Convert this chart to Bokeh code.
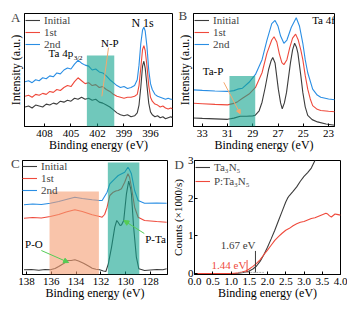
from bokeh.plotting import figure
from bokeh.models import Range1d, Label, Legend, LegendItem, FixedTicker, Arrow, NormalHead, BoxAnnotation, PrintfTickFormatter
from bokeh.layouts import column, row
from bokeh.embed import file_html
from bokeh.resources import INLINE

FONT = "Liberation Serif"
COL_INIT = "#3c3c3c"
COL_1ST = "#ef4a3c"
COL_2ND = "#2a8ee4"
TEAL = "#11a38e"
SALMON = "#f59d71"
ORANGE = "#f5a86e"
GREEN = "#55cc55"

SERIES = ["Initial", "1st", "2nd"]

# ---------------- Panel A : N 1s ----------------
A_X = [410.2, 409.8, 409.4, 409.0, 408.6, 408.2, 407.8, 407.4, 407.0, 406.6, 406.2, 405.8, 405.4, 405.0,
       404.6, 404.2, 403.8, 403.4, 403.0, 402.6, 402.2, 401.8, 401.4, 401.0, 400.6, 400.2, 399.8, 399.4,
       399.0, 398.6, 398.2, 397.8, 397.5, 397.3, 397.1, 396.9, 396.75, 396.6, 396.4, 396.2, 396.0, 395.8,
       395.5, 395.2, 394.9, 394.6, 394.3, 394.0, 393.7, 393.5]
A_INIT = [20, 21, 19, 22, 21, 20, 23, 22, 24, 23, 26, 25, 27, 26, 29, 28, 30, 28, 29, 27, 28, 25, 24, 22,
          20, 17, 14, 12, 11, 12, 10, 11, 14, 22, 40, 62, 67, 60, 42, 24, 15, 12, 10, 11, 9, 10, 8, 9, 10, 9]
A_1ST = [31, 32, 30, 33, 32, 34, 33, 36, 35, 38, 37, 40, 42, 41, 46, 50, 47, 44, 45, 42, 43, 40, 41, 38,
         36, 33, 31, 30, 29, 30, 30, 31, 33, 42, 60, 79, 83, 78, 62, 42, 30, 26, 23, 22, 20, 21, 19, 18, 19, 18]
A_2ND = [46, 47, 45, 48, 47, 50, 49, 52, 51, 55, 54, 58, 60, 59, 64, 68, 65, 63, 62, 58, 59, 56, 55, 52,
         48, 45, 42, 40, 41, 39, 40, 42, 48, 63, 85, 99, 102, 98, 82, 58, 44, 38, 33, 31, 30, 29, 28, 29, 28, 28]
A_TICKS = [408, 405, 402, 399, 396]
A_BAND = (403.2, 400.1, 73)

# ---------------- Panel B : Ta 4f ----------------
B_X_INIT = [33.7, 33.0, 32.0, 31.0, 30.5, 30.0, 29.5, 29.0, 28.8, 28.5, 28.27, 28.02, 27.75, 27.55, 27.42,
            27.24, 26.98, 26.8, 26.67, 26.5, 26.33, 26.02, 25.85, 25.69, 25.55, 25.43, 25.2, 25.04, 24.85,
            24.65, 24.3, 23.88, 23.2, 22.5]
B_INIT = [8.7, 8.3, 7.8, 7.3, 8.5, 10.5, 10.5, 10.8, 11.5, 16, 24.7, 39.7, 58, 67, 70.3, 64.7, 38, 24, 18,
          24, 34.7, 64.7, 78, 84.7, 81, 74.7, 52, 34.7, 20, 11.3, 7, 4.7, 2.5, 1.3]
B_X_1ST = [33.7, 33.0, 32.0, 31.0, 30.5, 30.2, 29.82, 29.3, 28.79, 28.27, 27.88, 27.5, 27.32, 27.1, 26.9,
           26.7, 26.54, 26.3, 26.08, 25.85, 25.61, 25.4, 25.2, 25.04, 24.85, 24.65, 24.45, 24.26, 23.9,
           23.62, 23.0, 22.5]
B_1ST = [23.7, 23.2, 22.5, 22, 23.5, 25.3, 28.7, 33, 39.7, 54.7, 74.7, 88, 91.3, 86, 74, 65, 63, 68, 80,
         90, 94, 88, 78, 68, 52, 38, 28, 21.3, 17.5, 16.3, 15.5, 15]
B_X_2ND = [33.7, 33.0, 32.0, 31.0, 30.5, 30.2, 29.82, 29.3, 28.79, 28.27, 27.88, 27.5, 27.24, 27.0, 26.8,
           26.54, 26.3, 25.95, 25.56, 25.3, 25.04, 24.85, 24.65, 24.26, 23.9, 23.62, 23.0, 22.5]
B_2ND = [37.3, 36.8, 36.2, 35.7, 36.5, 38, 39, 45, 53, 68, 88, 104.7, 108, 102, 92, 84.7, 88, 101, 110.7,
         102, 84.7, 68, 54.7, 38, 32, 29.7, 28, 27.3]
B_TICKS = [33, 31, 29, 27, 25, 23]
B_BAND = (30.85, 28.81, 51.3)

# ---------------- Panel C : P 2p ----------------
C_X_INIT = [138.2, 137.6, 137.0, 136.5, 136.08, 135.7, 135.4, 135.0, 134.7, 134.4, 134.1, 133.8, 133.4,
            133.0, 132.7, 132.4, 132.1, 131.8, 131.6, 131.4, 131.14, 130.88, 130.72, 130.6, 130.45, 130.34,
            130.16, 129.94, 129.76, 129.6, 129.54, 129.36, 129.14, 128.94, 128.48, 128.0, 127.5, 127.0, 126.7]
C_INIT = [4.7, 5, 4.3, 5, 4.7, 6, 8, 11, 14, 14, 14.7, 13.5, 11.3, 8.5, 6.3, 5.2, 4.7, 3.5, 3, 10.7, 27.3,
          47.3, 54, 52, 49, 49.5, 54, 80.7, 93.3, 86, 80.7, 47.3, 17.3, 5.7, 4, 4.5, 5, 4.8, 5.7]
C_X_1ST = [138.2, 137.5, 136.8, 136.08, 135.4, 134.8, 134.1, 133.5, 132.7, 132.1, 131.9, 131.7, 131.5,
           131.28, 131.0, 130.8, 130.6, 130.34, 130.08, 129.82, 129.68, 129.54, 129.28, 129.0, 128.48, 127.5, 126.7]
C_1ST = [56.3, 57, 56.5, 58, 60, 62.5, 64.7, 63, 59.7, 58, 57.3, 60, 67.3, 79, 82.3, 83.5, 84, 85.7, 92.3,
         100.7, 97, 87.3, 67.3, 57.3, 54, 53, 52.3]
C_X_2ND = [138.2, 137.5, 136.8, 136.08, 135.4, 134.8, 134.1, 133.5, 132.7, 132.1, 131.9, 131.5, 131.28,
           130.88, 130.6, 130.08, 129.82, 129.7, 129.54, 129.28, 129.0, 128.48, 127.5, 126.7]
C_2ND = [69.7, 70.5, 70, 71.3, 73, 75, 77.3, 76, 74.7, 74, 74, 82.3, 90.7, 95.7, 99, 102.3, 107.3, 105,
         100.7, 84, 74, 71.3, 71.5, 71.3]
C_TICKS = [138, 136, 134, 132, 130, 128]
C_BAND_PO = (136.14, 132.16, 83)
C_BAND_PTA = (131.44, 128.9, 112)

# ---------------- Panel D : onset ----------------
D_LABELS = ["Ta\u2083N\u2085", "P:Ta\u2083N\u2085"]
D_X_TA = [0.0, 0.5, 1.0, 1.2, 1.3, 1.4, 1.5, 1.6, 1.7, 1.8, 1.9, 2.0, 2.1, 2.2, 2.3, 2.4, 2.5, 2.55, 2.6,
          2.7, 2.8, 2.9, 3.0, 3.1, 3.2, 3.3, 3.35]
D_TA = [0.0, 0.0, 0.0, 0.01, 0.02, 0.04, 0.07, 0.12, 0.2, 0.33, 0.5, 0.7, 0.92, 1.15, 1.4, 1.65, 1.9, 2.0,
        2.07, 2.18, 2.3, 2.45, 2.58, 2.68, 2.8, 3.0, 3.1]
D_X_P = [0.0, 0.5, 1.0, 1.1, 1.2, 1.3, 1.4, 1.5, 1.6, 1.7, 1.8, 1.9, 2.0, 2.1, 2.2, 2.3, 2.4, 2.5, 2.6, 2.7,
         2.8, 2.9, 3.0, 3.1, 3.2, 3.3, 3.4, 3.5, 3.6, 3.65, 3.7, 3.75, 3.8, 3.85, 3.9, 4.0]
D_P = [0.0, 0.0, 0.0, 0.01, 0.02, 0.04, 0.07, 0.12, 0.19, 0.27, 0.37, 0.5, 0.62, 0.75, 0.88, 0.98, 1.07,
       1.15, 1.2, 1.27, 1.32, 1.36, 1.38, 1.42, 1.46, 1.48, 1.52, 1.56, 1.6, 1.58, 1.53, 1.5, 1.54, 1.58,
       1.57, 1.55]
D_ONSETS = [1.67, 1.44]
D_X_TICKS = [0.0, 0.5, 1.0, 1.5, 2.0, 2.5, 3.0, 3.5, 4.0]
D_Y_TICKS = [0, 1, 2, 3]


def make_fig(w, h, l, r, t, b, xr, yr, letter, letter_off, letter_drop):
    p = figure(width=w, height=h, x_range=Range1d(*xr), y_range=Range1d(*yr),
               output_backend="svg", toolbar_location=None, sizing_mode="fixed",
               min_border_left=l, min_border_right=r, min_border_top=t, min_border_bottom=b)
    p.grid.visible = False
    p.outline_line_color = "black"
    p.outline_line_width = 1
    p.background_fill_color = "white"
    p.border_fill_color = "white"
    # panel letter, drawn as a left-aligned title pulled down beside the frame
    p.title.text = letter
    p.title.align = "left"
    p.title.vertical_align = "bottom"
    p.title.offset = letter_off
    p.title.standoff = -letter_drop
    p.title.text_font = FONT
    p.title.text_font_size = "13px"
    p.title.text_font_style = "normal"
    for ax in (p.xaxis[0], p.yaxis[0]):
        ax.axis_line_color = "black"
        ax.major_tick_line_color = "black"
        ax.minor_tick_line_color = None
        ax.major_tick_in = 3
        ax.major_tick_out = 0
        ax.major_label_text_font = FONT
        ax.major_label_text_font_size = "11px"
        ax.major_label_text_color = "black"
        ax.axis_label_text_font = FONT
        ax.axis_label_text_font_size = "12px"
        ax.axis_label_text_font_style = "normal"
        ax.axis_label_text_color = "black"
    p.xaxis[0].major_label_standoff = 3
    p.xaxis[0].axis_label_standoff = -2
    p.yaxis[0].major_label_standoff = 1
    p.yaxis[0].axis_label_standoff = 1
    return p


def blank_y(p, label):
    ax = p.yaxis[0]
    ax.ticker = FixedTicker(ticks=[])
    ax.major_tick_in = 0
    if label:
        ax.axis_label = label
        ax.axis_label_standoff = 2


def add_legend(p, renderers, labels, spacing, pad):
    leg = Legend(items=[LegendItem(label=lb, renderers=[r]) for lb, r in zip(labels, renderers)],
                 location="top_left", label_text_font=FONT, label_text_font_size="11px",
                 glyph_width=15, glyph_height=8, label_height=8, label_standoff=4,
                 spacing=spacing, padding=pad, margin=0,
                 background_fill_alpha=0, border_line_alpha=0)
    p.add_layout(leg)


def text(p, x, y, txt, size="11px", color="black", align="center"):
    p.add_layout(Label(x=x, y=y, text=txt, text_font=FONT, text_font_size=size, text_color=color,
                       text_align=align, text_baseline="middle"))


# ---- A ----
pA = make_fig(174, 154, 24, 2, 12, 26, (410.26, 393.51), (0, 116), "A", -13.5, 22)
pA.xaxis[0].ticker = FixedTicker(ticks=A_TICKS)
pA.xaxis[0].axis_label = "Binding energy (eV)"
blank_y(pA, "Intensity (a.u.)")
rA = [pA.line(A_X, ys, line_color=c, line_width=1.1)
      for ys, c in zip([A_INIT, A_1ST, A_2ND], [COL_INIT, COL_1ST, COL_2ND])]
pA.add_layout(BoxAnnotation(left=A_BAND[0], right=A_BAND[1], bottom=0, top=A_BAND[2],
                            fill_color=TEAL, fill_alpha=0.6, line_alpha=0))
add_legend(pA, rA, SERIES, -5, 1)
text(pA, 396.9, 106, "N 1s", size="12px")
text(pA, 400.6, 86, "N-P")
text(pA, 404.75, 75, "Ta 4p", align="right")
text(pA, 404.7, 70, "3/2", size="7px", align="left")
pA.add_layout(Arrow(end=None, x_start=400.75, y_start=81, x_end=401.5, y_end=31,
                    line_color=ORANGE, line_width=1))

# ---- B ----
pB = make_fig(173, 154, 16, 13, 13, 26, (33.70, 22.53), (0, 115), "B", -15, 18)
pB.xaxis[0].ticker = FixedTicker(ticks=B_TICKS)
pB.xaxis[0].axis_label = "Binding energy (eV)"
blank_y(pB, "Intensity (a.u.)")
rB = [pB.line(xs, ys, line_color=c, line_width=1.1)
      for xs, ys, c in zip([B_X_INIT, B_X_1ST, B_X_2ND], [B_INIT, B_1ST, B_2ND], [COL_INIT, COL_1ST, COL_2ND])]
pB.add_layout(BoxAnnotation(left=B_BAND[0], right=B_BAND[1], bottom=0, top=B_BAND[2],
                            fill_color=TEAL, fill_alpha=0.6, line_alpha=0))
add_legend(pB, rB, SERIES, -5, 1)
text(pB, 23.4, 108, "Ta 4f")
text(pB, 32.15, 56, "Ta-P")
pB.add_layout(Arrow(end=NormalHead(size=4, fill_color=ORANGE, line_color=ORANGE),
                    x_start=31.3, y_start=45, x_end=30.0, y_end=13,
                    line_color=ORANGE, line_width=1))

# ---- C ----
pC = make_fig(168, 157, 22, 1, 6, 37, (138.32, 126.63), (0, 114), "C", -11.5, 20)
pC.xaxis[0].ticker = FixedTicker(ticks=C_TICKS)
pC.xaxis[0].axis_label = "Binding energy (eV)"
blank_y(pC, None)
rC = [pC.line(xs, ys, line_color=c, line_width=1.1)
      for xs, ys, c in zip([C_X_INIT, C_X_1ST, C_X_2ND], [C_INIT, C_1ST, C_2ND], [COL_INIT, COL_1ST, COL_2ND])]
pC.add_layout(BoxAnnotation(left=C_BAND_PO[0], right=C_BAND_PO[1], bottom=0, top=C_BAND_PO[2],
                            fill_color=SALMON, fill_alpha=0.6, line_alpha=0))
pC.add_layout(BoxAnnotation(left=C_BAND_PTA[0], right=C_BAND_PTA[1], bottom=0, top=C_BAND_PTA[2],
                            fill_color=TEAL, fill_alpha=0.6, line_alpha=0))
add_legend(pC, rC, SERIES, -5, 0)
text(pC, 137.4, 31, "P-O")
text(pC, 127.6, 36, "P-Ta")
pC.add_layout(Arrow(end=NormalHead(size=5, fill_color=GREEN, line_color=GREEN),
                    x_start=136.8, y_start=24, x_end=134.6, y_end=12,
                    line_color=GREEN, line_width=1))
pC.add_layout(Arrow(end=NormalHead(size=5, fill_color=GREEN, line_color=GREEN),
                    x_start=128.5, y_start=41, x_end=130.15, y_end=54,
                    line_color=GREEN, line_width=1))

# ---- D ----
pD = make_fig(179, 157, 20, 7, 3, 37, (0, 4), (-0.025, 3.0), "D", -20, 22)
pD.xaxis[0].ticker = FixedTicker(ticks=D_X_TICKS)
pD.xaxis[0].formatter = PrintfTickFormatter(format="%.1f")
pD.xaxis[0].axis_label = "Binding energy (eV)"
pD.yaxis[0].ticker = FixedTicker(ticks=D_Y_TICKS)
pD.yaxis[0].axis_label = "Counts (\u00d71000/s)"
pD.yaxis[0].axis_label_text_font_size = "11px"
rD = [pD.line(D_X_TA, D_TA, line_color=COL_INIT, line_width=1.1),
      pD.line(D_X_P, D_P, line_color=COL_1ST, line_width=1.1)]
pD.line([1.2, 1.9], [0.03, 0.03], line_color="#999999", line_width=0.8, line_dash="2 1")
pD.segment(x0=D_ONSETS, y0=[0.03, 0.03], x1=D_ONSETS, y1=[0.6, 0.36],
           line_color=[COL_INIT, COL_1ST], line_width=1)
add_legend(pD, rD, D_LABELS, 2, 1)
text(pD, 1.67, 0.75, "1.67 eV", color=COL_INIT, align="right")
text(pD, 1.42, 0.22, "1.44 eV", color=COL_1ST, align="right")

layout = column(row(pA, pB, sizing_mode="fixed"), row(pC, pD, sizing_mode="fixed"), sizing_mode="fixed")
open("out.html", "w").write(file_html(layout, INLINE))
